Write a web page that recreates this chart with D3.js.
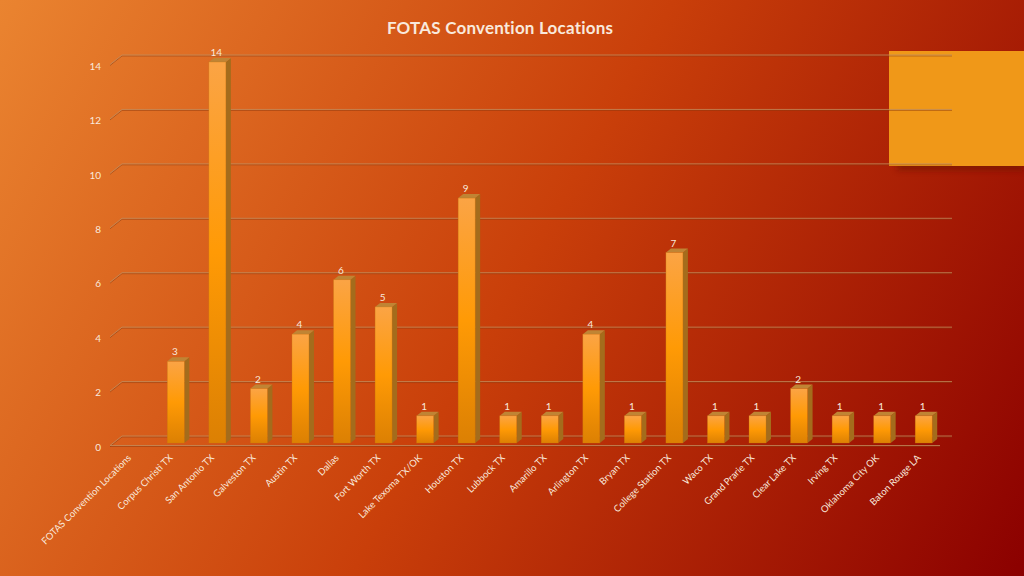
<!DOCTYPE html>
<html>
<head>
<meta charset="utf-8">
<script src="https://cdn.jsdelivr.net/npm/d3@7"></script>
<style>
  html, body { margin: 0; padding: 0; overflow: hidden; background: #c23c08; }
  svg { display: block; }
  text { font-family: Lato, sans-serif; fill: #f9e9dc; }
</style>
</head>
<body>
<div id="chart"></div>
<script>
const categories = ["FOTAS Convention Locations", "Corpus Christi TX", "San Antonio TX", "Galveston TX",
  "Austin TX", "Dallas", "Fort Worth TX", "Lake Texoma TX/OK", "Houston TX", "Lubbock TX", "Amarillo TX",
  "Arlington TX", "Bryan TX", "College Station TX", "Waco TX", "Grand Prarie TX", "Clear Lake TX",
  "Irving TX", "Oklahoma City OK", "Baton Rouge LA"];
const values = [null, 3, 14, 2, 4, 6, 5, 1, 9, 1, 1, 4, 1, 7, 1, 1, 2, 1, 1, 1];
const yTicks = [0, 2, 4, 6, 8, 10, 12, 14];
const chartTitle = "FOTAS Convention Locations";

const width = 1024;
const height = 576;
const textColor = "#f9e9dc";

const svg = d3.select("#chart").append("svg")
  .attr("width", width)
  .attr("height", height);

const defs = svg.append("defs");

// Page background
const bg = defs.append("linearGradient")
  .attr("id", "bg")
  .attr("gradientUnits", "userSpaceOnUse")
  .attr("x1", 0).attr("y1", 0)
  .attr("x2", 1024).attr("y2", 576);
bg.append("stop").attr("offset", "0%").attr("stop-color", "#ea8430");
bg.append("stop").attr("offset", "50%").attr("stop-color", "#c93f0a");
bg.append("stop").attr("offset", "100%").attr("stop-color", "#8b0000");

const barFill = defs.append("linearGradient")
  .attr("id", "barFill")
  .attr("x1", 0).attr("y1", 0)
  .attr("x2", 0).attr("y2", 1);
barFill.append("stop").attr("offset", "0%").attr("stop-color", "#fba445");
barFill.append("stop").attr("offset", "50%").attr("stop-color", "#ff9a05");
barFill.append("stop").attr("offset", "100%").attr("stop-color", "#dc8003");

const blur = defs.append("filter")
  .attr("id", "shadow")
  .attr("x", "-10%").attr("y", "-10%")
  .attr("width", "120%").attr("height", "125%");
blur.append("feGaussianBlur").attr("stdDeviation", 3);

svg.append("rect")
  .attr("width", width)
  .attr("height", height)
  .attr("fill", "url(#bg)");

// Accent block in the corner, sits behind the gridlines
svg.append("rect")
  .attr("x", 897).attr("y", 57)
  .attr("width", 127).attr("height", 113)
  .attr("fill", "#6e1200")
  .attr("opacity", 0.65)
  .attr("filter", "url(#shadow)");
svg.append("rect")
  .attr("x", 889).attr("y", 51)
  .attr("width", 135).attr("height", 115)
  .attr("fill", "#f09818");

svg.append("text")
  .attr("x", 500)
  .attr("y", 34)
  .attr("text-anchor", "middle")
  .style("font-size", "17px")
  .style("font-weight", 700)
  .style("letter-spacing", "0.2px")
  .text(chartTitle);

const x = d3.scaleBand()
  .domain(categories)
  .range([113.5, 944.5]);

// y of the front edge of the floor, the wall sits up and to the right of it
const y = d3.scaleLinear()
  .domain([0, 14])
  .range([445.5, 64.5]);

const wallDx = 12;
const wallDy = -9.5;
const barInset = -2.5;     // bars stand a little behind the front edge
const barWidth = 17;
const depthX = 5;
const depthY = -4;
const gridLeft = 110;
const gridLength = 830;

// Wall gridlines and the short slanted lines on the side wall, light line with a dark one under it
const grid = svg.append("g").attr("fill", "none");
[[1, "#8a3a10", 0.5], [0, "#c08c5c", 0.8]].forEach(([shift, color, alpha]) => {
  yTicks.forEach(t => {
    grid.append("path")
      .attr("d", `M${gridLeft},${y(t) + shift}L${gridLeft + wallDx},${y(t) + wallDy + shift}h${gridLength}`)
      .attr("stroke", color)
      .attr("stroke-opacity", alpha);
  });
  // Front edge of the floor
  grid.append("line")
    .attr("x1", gridLeft).attr("x2", gridLeft + gridLength)
    .attr("y1", y(0) + shift).attr("y2", y(0) + shift)
    .attr("stroke", color)
    .attr("stroke-opacity", alpha);
});

// Value axis
svg.append("g")
  .attr("transform", "translate(101,1.5)")
  .call(d3.axisLeft(y).tickValues(yTicks).tickSize(0).tickPadding(0))
  .call(g => g.select(".domain").remove())
  .call(g => g.selectAll("text")
    .style("font-family", "Lato, sans-serif")
    .style("font-size", "10px")
    .attr("fill", textColor));

// Category axis
svg.append("g")
  .attr("transform", "translate(0,446)")
  .call(d3.axisBottom(x).tickSize(0).tickPadding(0))
  .call(g => g.select(".domain").remove())
  .call(g => g.selectAll("text")
    .style("font-family", "Lato, sans-serif")
    .style("font-size", "9.5px")
    .attr("fill", textColor)
    .attr("text-anchor", "end")
    .attr("dy", 0)
    .attr("transform", "translate(-2.5,12.5) rotate(-45)"));

// Bars
const barData = categories
  .map((name, i) => ({ name, value: values[i] }))
  .filter(d => d.value !== null);

const bars = svg.selectAll(".bar")
  .data(barData)
  .enter()
  .append("g")
  .attr("class", "bar");

const barLeft = d => x(d.name) + x.bandwidth() / 2 - barWidth / 2;
const barTop = d => y(d.value) + barInset;
const barBase = y(0) + barInset;

bars.append("path")
  .attr("fill", "#a46c1c")
  .attr("d", d => `M${barLeft(d) + barWidth},${barTop(d)}l${depthX},${depthY}V${barBase + depthY}l${-depthX},${-depthY}Z`);

bars.append("path")
  .attr("fill", "#c08434")
  .attr("d", d => `M${barLeft(d)},${barTop(d)}l${depthX},${depthY}h${barWidth}l${-depthX},${-depthY}Z`);

bars.append("rect")
  .attr("x", barLeft)
  .attr("y", barTop)
  .attr("width", barWidth)
  .attr("height", d => barBase - barTop(d))
  .attr("fill", "url(#barFill)")
  .attr("stroke", "#c87a10")
  .attr("stroke-opacity", 0.5)
  .attr("stroke-width", 0.6);

// Value labels
bars.append("text")
  .attr("x", d => barLeft(d) + barWidth / 2 - 1)
  .attr("y", d => barTop(d) - 6)
  .attr("text-anchor", "middle")
  .style("font-size", "10px")
  .text(d => d.value);
</script>
</body>
</html>
